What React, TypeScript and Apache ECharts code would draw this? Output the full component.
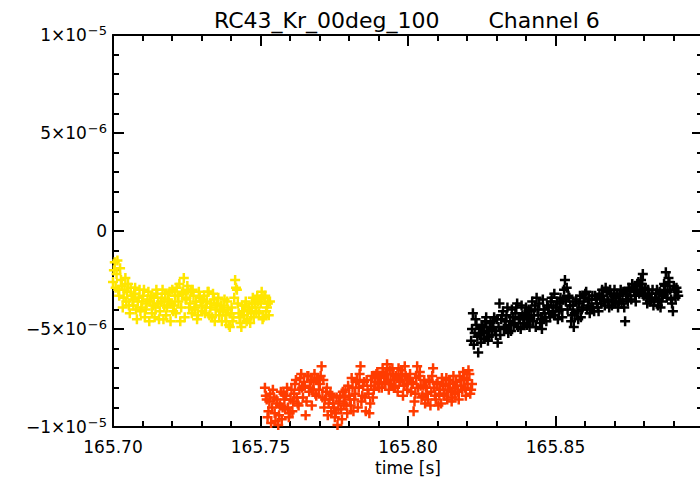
import React, { useEffect, useRef } from "react";
import * as echarts from "echarts";

// values in units of 1e-6
const yellowData: [number, number][] = [
  [165.7000, -2.6], [165.7006, -1.6], [165.7012, -2.2], [165.7018, -3.0], [165.7024, -1.9],
  [165.7030, -2.8], [165.7036, -3.4], [165.7042, -2.4], [165.7048, -3.1], [165.7054, -3.8],
  [165.7060, -2.9], [165.7066, -3.5], [165.7072, -3.2], [165.7078, -4.0], [165.7084, -3.6],
  [165.7090, -3.0], [165.7096, -3.9], [165.7102, -3.3], [165.7108, -4.4], [165.7114, -3.7],
  [165.7120, -3.1], [165.7126, -3.6], [165.7132, -4.2], [165.7138, -3.4], [165.7144, -3.9],
  [165.7150, -3.2], [165.7156, -4.5], [165.7162, -3.6], [165.7168, -3.0], [165.7174, -3.8],
  [165.7180, -4.3], [165.7186, -3.5], [165.7192, -3.1], [165.7198, -3.7], [165.7204, -4.1],
  [165.7210, -3.3], [165.7216, -2.9], [165.7222, -3.6], [165.7228, -4.6], [165.7234, -3.2],
  [165.7240, -2.4], [165.7246, -3.5], [165.7252, -2.8], [165.7258, -3.9], [165.7264, -3.1],
  [165.7270, -3.0], [165.7276, -4.0], [165.7282, -3.6], [165.7288, -4.3], [165.7294, -3.4],
  [165.7300, -3.8], [165.7306, -3.5], [165.7312, -4.2], [165.7318, -3.6], [165.7324, -3.1],
  [165.7330, -3.9], [165.7336, -4.4], [165.7342, -3.5], [165.7348, -4.0], [165.7354, -3.7],
  [165.7360, -4.3], [165.7366, -3.8], [165.7372, -4.1], [165.7378, -3.5], [165.7384, -4.6],
  [165.7390, -4.0], [165.7396, -4.9], [165.7402, -3.9], [165.7408, -4.4], [165.7414, -2.5],
  [165.7420, -3.0], [165.7426, -4.2], [165.7432, -4.7], [165.7438, -3.8], [165.7444, -4.3],
  [165.7450, -3.6], [165.7456, -4.5], [165.7462, -3.9], [165.7468, -4.2], [165.7474, -3.4],
  [165.7480, -3.7], [165.7486, -4.1], [165.7492, -3.6], [165.7498, -3.5], [165.7504, -3.1],
  [165.7510, -4.4], [165.7516, -3.3], [165.7522, -3.9], [165.7528, -4.3], [165.7532, -3.6],
];

const yellowData2: [number, number][] = [
  [165.7003, -2.0], [165.7009, -2.9], [165.7015, -1.5], [165.7021, -3.3], [165.7027, -2.5],
  [165.7033, -3.9], [165.7039, -3.0], [165.7045, -3.6], [165.7051, -2.7], [165.7057, -4.2],
  [165.7063, -3.3], [165.7069, -3.8], [165.7075, -2.9], [165.7081, -4.5], [165.7087, -3.4],
  [165.7093, -4.1], [165.7099, -3.6], [165.7105, -3.0], [165.7111, -4.0], [165.7117, -3.5],
  [165.7123, -4.6], [165.7129, -3.3], [165.7135, -3.8], [165.7141, -4.4], [165.7147, -3.0],
  [165.7153, -3.7], [165.7159, -4.1], [165.7165, -3.4], [165.7171, -4.5], [165.7177, -3.2],
  [165.7183, -3.9], [165.7189, -3.6], [165.7195, -4.6], [165.7201, -3.0], [165.7207, -3.8],
  [165.7213, -4.2], [165.7219, -3.3], [165.7225, -2.7], [165.7231, -3.9], [165.7237, -3.1],
  [165.7243, -4.4], [165.7249, -3.4], [165.7255, -3.0], [165.7261, -3.7], [165.7267, -4.2],
  [165.7273, -3.3], [165.7279, -3.9], [165.7285, -4.5], [165.7291, -3.1], [165.7297, -3.6],
  [165.7303, -4.1], [165.7309, -3.3], [165.7315, -3.9], [165.7321, -3.1], [165.7327, -4.3],
  [165.7333, -3.7], [165.7339, -3.2], [165.7345, -4.6], [165.7351, -3.8], [165.7357, -3.4],
  [165.7363, -4.1], [165.7369, -4.6], [165.7375, -3.9], [165.7381, -4.3], [165.7387, -3.6],
  [165.7393, -4.8], [165.7399, -4.2], [165.7405, -4.6], [165.7411, -3.4], [165.7417, -2.9],
  [165.7423, -3.7], [165.7429, -4.4], [165.7435, -4.9], [165.7441, -4.1], [165.7447, -3.8],
  [165.7453, -4.6], [165.7459, -4.0], [165.7465, -4.7], [165.7471, -3.7], [165.7477, -4.4],
  [165.7483, -3.9], [165.7489, -3.3], [165.7495, -4.2], [165.7501, -3.7], [165.7507, -4.5],
  [165.7513, -3.4], [165.7519, -4.1], [165.7525, -3.7],
];

const orangeData: [number, number][] = [
  [165.7515, -8.0], [165.7521, -8.6], [165.7527, -9.2], [165.7533, -8.3], [165.7539, -9.0],
  [165.7545, -8.5], [165.7551, -9.7], [165.7557, -8.8], [165.7563, -9.4], [165.7569, -8.2],
  [165.7575, -9.0], [165.7581, -8.6], [165.7587, -8.4], [165.7593, -9.0], [165.7599, -9.3],
  [165.7605, -8.1], [165.7611, -8.7], [165.7617, -7.8], [165.7623, -8.5], [165.7629, -8.9],
  [165.7635, -7.5], [165.7641, -8.0], [165.7647, -7.7], [165.7653, -9.4], [165.7659, -7.4],
  [165.7665, -8.2], [165.7671, -7.6], [165.7677, -8.1], [165.7683, -7.3], [165.7689, -8.4],
  [165.7695, -7.6], [165.7701, -7.8], [165.7707, -6.9], [165.7713, -7.6], [165.7719, -8.6],
  [165.7725, -8.0], [165.7731, -8.8], [165.7737, -8.3], [165.7743, -8.4], [165.7749, -9.0],
  [165.7755, -9.3], [165.7761, -9.9], [165.7767, -8.7], [165.7773, -9.1], [165.7779, -8.2],
  [165.7785, -8.5], [165.7791, -8.9], [165.7797, -7.9], [165.7803, -8.6], [165.7809, -7.5],
  [165.7815, -9.2], [165.7821, -8.3], [165.7827, -7.6], [165.7833, -8.0], [165.7839, -6.9],
  [165.7845, -8.4], [165.7851, -7.7], [165.7857, -9.2], [165.7863, -8.1], [165.7869, -9.3],
  [165.7875, -7.9], [165.7881, -8.5], [165.7887, -7.5], [165.7893, -7.3], [165.7899, -7.8],
  [165.7905, -7.4], [165.7911, -8.0], [165.7917, -7.2], [165.7923, -7.7], [165.7929, -6.8],
  [165.7935, -8.1], [165.7941, -7.6], [165.7947, -7.0], [165.7953, -7.9], [165.7959, -7.4],
  [165.7965, -8.2], [165.7971, -7.6], [165.7977, -7.1], [165.7983, -8.4], [165.7989, -6.9],
  [165.7995, -7.8], [165.8001, -7.5], [165.8007, -7.3], [165.8013, -7.7], [165.8019, -9.2],
  [165.8025, -8.3], [165.8031, -6.9], [165.8037, -7.4], [165.8043, -7.9], [165.8049, -8.4],
  [165.8055, -7.6], [165.8061, -8.0], [165.8067, -8.6], [165.8073, -7.7], [165.8079, -8.2],
  [165.8085, -7.0], [165.8091, -8.4], [165.8097, -7.8], [165.8103, -8.9], [165.8109, -8.1],
  [165.8115, -7.5], [165.8121, -8.3], [165.8127, -7.9], [165.8133, -8.6], [165.8139, -7.6],
  [165.8145, -8.2], [165.8151, -8.5], [165.8157, -8.0], [165.8163, -7.7], [165.8169, -8.2],
  [165.8175, -7.4], [165.8181, -7.9], [165.8187, -7.2], [165.8193, -8.0], [165.8199, -7.6],
  [165.8205, -7.1], [165.8211, -8.3], [165.8217, -7.8],
];

const orangeData2: [number, number][] = [
  [165.7518, -8.4], [165.7524, -9.5], [165.7530, -8.7], [165.7536, -9.8], [165.7542, -8.1],
  [165.7548, -9.3], [165.7554, -8.6], [165.7560, -9.9], [165.7566, -8.9], [165.7572, -9.6],
  [165.7578, -8.3], [165.7584, -9.1], [165.7590, -8.0], [165.7596, -9.5], [165.7602, -8.6],
  [165.7608, -9.2], [165.7614, -8.3], [165.7620, -7.6], [165.7626, -8.8], [165.7632, -8.1],
  [165.7638, -7.3], [165.7644, -8.5], [165.7650, -7.9], [165.7656, -8.7], [165.7662, -7.4],
  [165.7668, -8.0], [165.7674, -8.9], [165.7680, -7.7], [165.7686, -8.3], [165.7692, -7.5],
  [165.7698, -8.1], [165.7704, -7.4], [165.7710, -8.5], [165.7716, -9.0], [165.7722, -8.2],
  [165.7728, -9.4], [165.7734, -8.6], [165.7740, -9.2], [165.7746, -8.8], [165.7752, -9.5],
  [165.7758, -8.5], [165.7764, -9.1], [165.7770, -8.4], [165.7776, -9.6], [165.7782, -8.8],
  [165.7788, -8.1], [165.7794, -9.3], [165.7800, -8.4], [165.7806, -8.9], [165.7812, -8.0],
  [165.7818, -8.6], [165.7824, -7.7], [165.7830, -9.0], [165.7836, -7.3], [165.7842, -8.7],
  [165.7848, -7.9], [165.7854, -8.5], [165.7860, -7.6], [165.7866, -8.3], [165.7872, -8.8],
  [165.7878, -7.4], [165.7884, -8.1], [165.7890, -7.7], [165.7896, -7.2], [165.7902, -8.0],
  [165.7908, -7.5], [165.7914, -7.0], [165.7920, -7.8], [165.7926, -7.3], [165.7932, -7.6],
  [165.7938, -7.1], [165.7944, -7.8], [165.7950, -7.3], [165.7956, -8.0], [165.7962, -7.5],
  [165.7968, -7.0], [165.7974, -7.7], [165.7980, -7.3], [165.7986, -7.9], [165.7992, -7.4],
  [165.7998, -8.1], [165.8004, -7.6], [165.8010, -8.2], [165.8016, -7.8], [165.8022, -8.7],
  [165.8028, -7.5], [165.8034, -8.0], [165.8040, -7.2], [165.8046, -8.5], [165.8052, -7.9],
  [165.8058, -8.8], [165.8064, -8.3], [165.8070, -7.6], [165.8076, -8.9], [165.8082, -7.4],
  [165.8088, -8.0], [165.8094, -8.6], [165.8100, -7.7], [165.8106, -8.3], [165.8112, -8.8],
  [165.8118, -7.8], [165.8124, -8.4], [165.8130, -7.5], [165.8136, -8.1], [165.8142, -7.8],
  [165.8148, -8.7], [165.8154, -7.4], [165.8160, -8.3], [165.8166, -7.9], [165.8172, -8.6],
  [165.8178, -7.6], [165.8184, -8.1], [165.8190, -7.5], [165.8196, -8.4], [165.8202, -7.8],
  [165.8208, -7.3], [165.8214, -8.1],
];

const blackData: [number, number][] = [
  [165.8214, -5.6], [165.8220, -4.2], [165.8226, -5.2], [165.8232, -4.8], [165.8238, -6.2],
  [165.8244, -5.3], [165.8250, -4.9], [165.8256, -5.5], [165.8262, -4.6], [165.8268, -5.1],
  [165.8274, -5.4], [165.8280, -4.7], [165.8286, -5.0], [165.8292, -4.4], [165.8298, -5.3],
  [165.8304, -5.7], [165.8310, -3.7], [165.8316, -4.5], [165.8322, -4.1], [165.8328, -4.9],
  [165.8334, -4.3], [165.8340, -5.2], [165.8346, -4.6], [165.8352, -4.0], [165.8358, -4.8],
  [165.8364, -4.2], [165.8370, -3.7], [165.8376, -4.5], [165.8382, -5.0], [165.8388, -4.3],
  [165.8394, -4.7], [165.8400, -3.9], [165.8406, -4.4], [165.8412, -4.9], [165.8418, -4.1],
  [165.8424, -4.6], [165.8430, -3.8], [165.8436, -3.4], [165.8442, -4.3], [165.8448, -4.7],
  [165.8454, -5.0], [165.8460, -4.0], [165.8466, -4.4], [165.8472, -3.8], [165.8478, -4.2],
  [165.8484, -3.6], [165.8490, -4.1], [165.8496, -3.2], [165.8502, -3.9], [165.8508, -4.5],
  [165.8514, -3.7], [165.8520, -4.0], [165.8526, -3.5], [165.8532, -2.5], [165.8538, -2.9],
  [165.8544, -3.3], [165.8550, -3.8], [165.8556, -4.3], [165.8562, -4.9], [165.8568, -3.6],
  [165.8574, -4.1], [165.8580, -3.7], [165.8586, -4.4], [165.8592, -3.9], [165.8598, -3.4],
  [165.8604, -3.1], [165.8610, -3.8], [165.8616, -4.2], [165.8622, -3.5], [165.8628, -3.9],
  [165.8634, -3.3], [165.8640, -3.7], [165.8646, -4.1], [165.8652, -3.4], [165.8658, -3.0],
  [165.8664, -3.6], [165.8670, -2.9], [165.8676, -3.5], [165.8682, -3.9], [165.8688, -3.2],
  [165.8694, -3.6], [165.8700, -3.0], [165.8706, -3.4], [165.8712, -3.9], [165.8718, -3.3],
  [165.8724, -3.7], [165.8730, -3.1], [165.8736, -4.6], [165.8742, -3.5], [165.8748, -2.9],
  [165.8754, -3.3], [165.8760, -2.7], [165.8766, -3.1], [165.8772, -3.6], [165.8778, -2.8],
  [165.8784, -3.2], [165.8790, -2.5], [165.8796, -2.2], [165.8802, -2.9], [165.8808, -3.4],
  [165.8814, -3.0], [165.8820, -3.6], [165.8826, -3.2], [165.8832, -3.8], [165.8838, -3.4],
  [165.8844, -3.0], [165.8850, -3.5], [165.8856, -3.9], [165.8862, -3.3], [165.8868, -2.7],
  [165.8874, -2.1], [165.8880, -3.1], [165.8886, -2.6], [165.8892, -3.5], [165.8898, -4.1],
  [165.8904, -3.0], [165.8910, -2.9], [165.8916, -3.3],
];

const blackData2: [number, number][] = [
  [165.8217, -5.0], [165.8223, -5.8], [165.8229, -4.5], [165.8235, -5.4], [165.8241, -5.0],
  [165.8247, -5.7], [165.8253, -4.8], [165.8259, -5.2], [165.8265, -4.4], [165.8271, -5.6],
  [165.8277, -4.9], [165.8283, -5.3], [165.8289, -4.6], [165.8295, -5.1], [165.8301, -4.5],
  [165.8307, -4.9], [165.8313, -5.3], [165.8319, -4.3], [165.8325, -5.0], [165.8331, -4.6],
  [165.8337, -3.9], [165.8343, -4.8], [165.8349, -5.1], [165.8355, -4.4], [165.8361, -4.7],
  [165.8367, -3.9], [165.8373, -4.9], [165.8379, -4.4], [165.8385, -3.8], [165.8391, -4.5],
  [165.8397, -4.2], [165.8403, -4.8], [165.8409, -4.0], [165.8415, -4.5], [165.8421, -3.6],
  [165.8427, -4.3], [165.8433, -4.9], [165.8439, -4.0], [165.8445, -3.7], [165.8451, -4.5],
  [165.8457, -3.5], [165.8463, -4.2], [165.8469, -4.6], [165.8475, -3.9], [165.8481, -4.4],
  [165.8487, -3.4], [165.8493, -3.8], [165.8499, -4.3], [165.8505, -3.6], [165.8511, -4.1],
  [165.8517, -3.4], [165.8523, -4.4], [165.8529, -3.0], [165.8535, -3.6], [165.8541, -4.0],
  [165.8547, -3.4], [165.8553, -4.6], [165.8559, -3.8], [165.8565, -4.2], [165.8571, -3.5],
  [165.8577, -4.5], [165.8583, -3.3], [165.8589, -4.0], [165.8595, -3.6], [165.8601, -3.2],
  [165.8607, -4.0], [165.8613, -3.5], [165.8619, -3.9], [165.8625, -3.3], [165.8631, -4.1],
  [165.8637, -3.5], [165.8643, -3.9], [165.8649, -3.2], [165.8655, -3.7], [165.8661, -3.3],
  [165.8667, -3.8], [165.8673, -3.1], [165.8679, -3.6], [165.8685, -3.0], [165.8691, -3.8],
  [165.8697, -3.3], [165.8703, -3.7], [165.8709, -3.2], [165.8715, -3.6], [165.8721, -3.0],
  [165.8727, -3.5], [165.8733, -3.9], [165.8739, -3.2], [165.8745, -3.6], [165.8751, -3.0],
  [165.8757, -3.5], [165.8763, -2.9], [165.8769, -3.3], [165.8775, -3.0], [165.8781, -2.6],
  [165.8787, -3.1], [165.8793, -2.7], [165.8799, -3.3], [165.8805, -3.0], [165.8811, -3.7],
  [165.8817, -3.2], [165.8823, -3.5], [165.8829, -3.0], [165.8835, -3.6], [165.8841, -3.2],
  [165.8847, -3.8], [165.8853, -3.1], [165.8859, -3.6], [165.8865, -3.2], [165.8871, -2.8],
  [165.8877, -3.4], [165.8883, -2.4], [165.8889, -3.0], [165.8895, -3.7], [165.8901, -2.8],
  [165.8907, -3.4], [165.8913, -3.1],
];

const xTicks = [165.70, 165.75, 165.80, 165.85];
const yTicks = [-10, -5, 0, 5, 10];

const TITLE = "RC43_Kr_00deg_100       Channel 6";
const X_NAME = "time [s]";
const FONT = "DejaVu Sans";
const PLUS = "path://M3,0H5V3H8V5H5V8H3V5H0V3H3Z";

function yLabel(v: number): string {
  if (v === 0) return "0";
  const x = v * 1e-6;
  const exp = Math.floor(Math.log10(Math.abs(x)) + 1e-9);
  const mant = Math.round(x / Math.pow(10, exp));
  const m = mant < 0 ? "\u2212" + Math.abs(mant) : String(mant);
  const e = exp < 0 ? "\u2212" + Math.abs(exp) : String(exp);
  return `${m}\u00d710{s|${e}}`;
}

export default function App() {
  const ref = useRef<HTMLDivElement>(null);
  useEffect(() => {
    if (!ref.current) return;
    const chart = echarts.init(ref.current, undefined, { renderer: "svg" });
    const axisLine = { show: true, onZero: false, lineStyle: { color: "#000", width: 2 } };
    const axisTick = { show: true, inside: true, length: 11, lineStyle: { color: "#000", width: 2 } };
    const minorTick = { show: true, splitNumber: 5, length: 6, lineStyle: { color: "#000", width: 2 } };
    const xMin = xTicks[0];
    const xMax = 165.90;
    const yMin = yTicks[0];
    const yMax = yTicks[yTicks.length - 1];
    const scatter = (data: [number, number][], color: string) => ({
      type: "scatter",
      data,
      symbol: PLUS,
      symbolSize: 10,
      itemStyle: { color, opacity: 1 },
      clip: true,
    });
    chart.setOption({
      animation: false,
      backgroundColor: "#fff",
      title: {
        text: TITLE,
        left: 209,
        top: 4,
        textStyle: { fontFamily: FONT, fontSize: 22, fontWeight: "normal", color: "#000" },
      },
      grid: { left: 113, top: 35, width: 590, height: 392, outerBoundsMode: "none" },
      xAxis: [
        {
          type: "value",
          min: xMin,
          max: xMax,
          interval: 0.05,
          position: "bottom",
          name: X_NAME,
          nameLocation: "middle",
          nameGap: 29,
          nameTextStyle: { fontFamily: FONT, fontSize: 17, color: "#000" },
          axisLine,
          axisTick,
          minorTick,
          splitLine: { show: false },
          axisLabel: {
            fontFamily: FONT,
            fontSize: 17,
            color: "#000",
            margin: 11,
            showMaxLabel: false,
            formatter: (v: number) => (v > 165.875 ? "" : v.toFixed(2)),
          },
        },
        {
          type: "value",
          min: xMin,
          max: xMax,
          interval: 0.05,
          position: "top",
          axisLine,
          axisTick,
          minorTick,
          splitLine: { show: false },
          axisLabel: { show: false },
        },
      ],
      yAxis: [
        {
          type: "value",
          min: yMin,
          max: yMax,
          interval: 5,
          position: "left",
          axisLine,
          axisTick,
          minorTick,
          splitLine: { show: false },
          axisLabel: {
            fontFamily: FONT,
            fontSize: 17,
            color: "#000",
            margin: 6,
            formatter: yLabel,
            rich: {
              s: { fontFamily: FONT, fontSize: 13, color: "#000", padding: [0, 0, 10, 1] },
            },
          },
        },
        {
          type: "value",
          min: yMin,
          max: yMax,
          interval: 5,
          position: "right",
          axisLine,
          axisTick,
          minorTick,
          splitLine: { show: false },
          axisLabel: { show: false },
        },
      ],
      series: [
        scatter(yellowData.concat(yellowData2), "#ffe600"),
        scatter(orangeData.concat(orangeData2), "#ff3c00"),
        scatter(blackData.concat(blackData2), "#000000"),
      ],
    });
    return () => chart.dispose();
  }, []);
  return (
    <div
      ref={ref}
      style={{ position: "fixed", left: 0, top: 0, width: 700, height: 482, background: "#fff" }}
    />
  );
}
